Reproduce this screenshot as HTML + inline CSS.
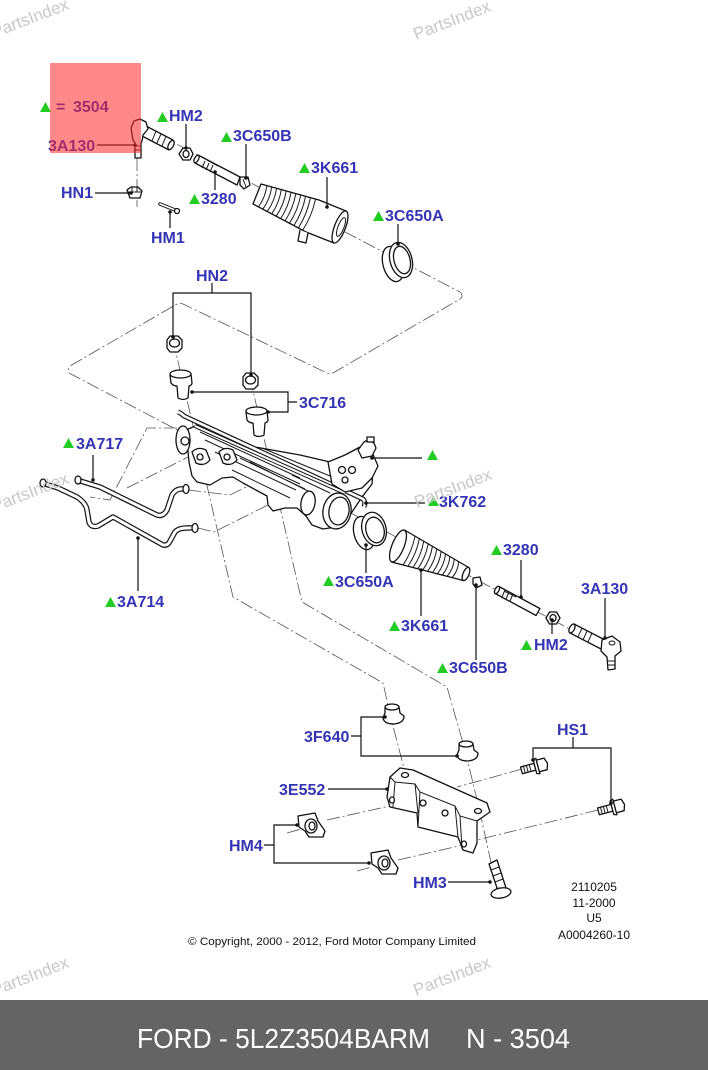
<!DOCTYPE html>
<html>
<head>
<meta charset="utf-8">
<style>
  html, body { margin:0; padding:0; background:#fff; }
  body { width:708px; height:1070px; overflow:hidden; }
  svg { display:block; }
  .p { fill:#fff; stroke:#111; stroke-width:1.3; stroke-linejoin:round; }
  .k { fill:none; stroke:#1a1a1a; stroke-width:1; }
  .d { fill:none; stroke:#555; stroke-width:0.8; stroke-dasharray:13 3 2 3; }
  .ld { fill:none; stroke:#111; stroke-width:1.2; }
  .t { font-family:"Liberation Sans", Arial, sans-serif; font-weight:bold; font-size:16px; fill:#3434b4; }
  .tri { fill:#22cc22; }
  .wm { font-family:"Liberation Sans", Arial, sans-serif; font-size:17px; fill:#c8c8c8; }
  .sm { font-family:"Liberation Sans", Arial, sans-serif; font-size:12px; fill:#111; }
</style>
</head>
<body>
<svg width="708" height="1070" viewBox="0 0 708 1070" xmlns="http://www.w3.org/2000/svg">
<rect x="0" y="0" width="708" height="1070" fill="#fff"/>

<!-- ================= DASH-DOT CONSTRUCTION LINES ================= -->
<path class="d" d="M140,125 L460,292 Q464,296 460,299 L333,373 Q330,374 327,373 L183,304 Q180,303 177,304 L70,366 Q67,369 69,373 L185,434"/>
<path class="d" d="M137,158 V207"/>
<path class="d" d="M173,340 L233,597 L383,683 L392,722 L406,776"/>
<path class="d" d="M250,378 L302,602 L447,687 L465,750 L480,812 L497,890"/>
<path class="d" d="M330,502 L600,645"/>
<path class="d" d="M177,428 L147,428 L110,500 L90,497"/>
<path class="d" d="M127,488 L188,457"/>
<path class="d" d="M188,490 L230,495 L252,484"/>
<path class="d" d="M198,528 L214,532 L278,500"/>
<path class="d" d="M522,769 L457,787"/>
<path class="d" d="M598,810 L477,840"/>
<path class="d" d="M327,820 L390,806"/>
<path class="d" d="M398,860 L463,845"/>
<path class="d" d="M287,833 L301,829"/>
<path class="d" d="M357,871 L372,867"/>

<!-- ================= TOP TIE ROD ASSEMBLY ================= -->
<path class="p" d="M146,126 L173,140 L169,150 L142,136 Z"/>
<ellipse class="p" cx="171" cy="145" rx="2.5" ry="5" transform="rotate(27 171 145)"/>
<path class="k" d="M156,131 L152,141 M161,134 L157,143 M166,136 L162,146"/>
<path class="p" d="M131,128 L134,121 L140,119 L146,122 L148,129 L143,135 L142,141 L141,143 L141,158 L135,158 L135,143 L133,140 Z"/>
<path class="k" d="M134,146 H141 M134,150 H141"/>
<path class="p" d="M193,154 L190,160 L183,160 L179,154 L183,148 L190,148 Z"/>
<ellipse class="p" cx="186" cy="154" rx="3" ry="3.5"/>
<path class="p" d="M198,155 L240,177 L237,185 L195,163 Z"/>
<ellipse class="p" cx="196.5" cy="159" rx="2" ry="4.2" transform="rotate(28 196.5 159)"/>
<path class="k" d="M205,161 L202,168 M209,163 L206,170 M213,165 L210,172 M207,160 L218,166"/>
<path class="p" d="M240,177 L248,177 L250,185 L244,189 L240,185 Z"/>
<path class="k" d="M243,179 L246,187"/>
<path class="p" d="M261,184 L319,200 L346,211 L334,243 L306,232 L253,204 Z"/>
<path class="k" d="M266.9,185.4 Q265.4,197.3 258.3,207 M271.7,186.9 Q270,199.2 262.7,209.3 M276.6,188.2 Q274.7,201 267.2,211.6 M281.3,189.6 Q279.3,202.9 271.7,214 M286.2,191 Q284,204.7 276.2,216.2 M291,192.4 Q288.6,206.6 280.6,218.6 M295.8,193.7 Q293.2,208.4 285,220.9 M300.7,195.2 Q297.9,210.3 289.5,223.2 M305.5,196.5 Q302.5,212.1 293.9,225.5 M310.4,197.9 Q307.2,214 298.4,227.9 M315.5,199.2 Q312,215.8 302.5,230.5"/>
<path class="p" d="M300,230 L298,241 L306,243 L308,233"/>
<ellipse class="p" cx="340" cy="227" rx="5.5" ry="17" transform="rotate(21 340 227)"/>
<ellipse class="k" cx="341" cy="227" rx="3" ry="10" transform="rotate(21 341 227)"/>
<ellipse class="p" cx="393" cy="264" rx="10" ry="18" transform="rotate(-15 393 264)"/>
<ellipse class="p" cx="401" cy="260" rx="11" ry="18" transform="rotate(-15 401 260)"/>
<ellipse class="p" cx="402" cy="260" rx="8" ry="14" transform="rotate(-15 402 260)"/>
<path class="p" d="M127,190 L131,187 L138,187 L142,191 L140,198 L130,198 Z"/>
<path class="k" d="M132,187 V192 M137,187 V192 M127,192 H142"/>
<path d="M160,204 L175,210" stroke="#1a1a1a" stroke-width="3.5" stroke-linecap="round" fill="none"/>
<path d="M160,204 L175,210" stroke="#fff" stroke-width="1.5" stroke-linecap="round" fill="none"/>
<circle class="p" cx="177" cy="211" r="2.5"/>

<!-- ================= HN2 NUTS / 3C716 BUSHINGS ================= -->
<path class="p" d="M167,340 L170,336 L178,336 L182,340 L182,348 L178,352 L170,352 L167,348 Z"/>
<ellipse class="p" cx="174.5" cy="343" rx="5" ry="4"/>
<path class="p" d="M243,377 L246,373 L254,373 L258,377 L258,385 L254,389 L246,389 L243,385 Z"/>
<ellipse class="p" cx="250.5" cy="380" rx="5" ry="4"/>
<path class="p" d="M170,375 L171,383 Q173,386 177,386 L178,398 Q183,401 188,398 L189,386 Q192,385 192,383 L191,374 Z"/>
<ellipse class="p" cx="180.5" cy="374" rx="10.5" ry="4"/>
<path class="p" d="M246,412 L247,420 Q249,423 253,423 L254,435 Q259,438 264,435 L265,423 Q268,422 268,420 L267,411 Z"/>
<ellipse class="p" cx="256.5" cy="411" rx="10.5" ry="4"/>

<!-- ================= TUBES 3A717 / 3A714 ================= -->
<path d="M77,480 L100,487 L157,515 Q163,517 167,510 L172,495 Q176,488 184,489" fill="none" stroke="#1a1a1a" stroke-width="5.5" stroke-linejoin="round"/>
<path d="M77,480 L100,487 L157,515 Q163,517 167,510 L172,495 Q176,488 184,489" fill="none" stroke="#fff" stroke-width="3" stroke-linejoin="round"/>
<ellipse class="p" cx="78" cy="480" rx="3" ry="4"/>
<ellipse class="p" cx="186" cy="489" rx="3" ry="4.5"/>
<path d="M42,483 L58,488 L77,497 Q86,503 87,510 L89,522 Q91,528 98,526 L113,517 L163,545 Q168,546 170,541 L175,532 Q179,527 193,528" fill="none" stroke="#1a1a1a" stroke-width="5.5" stroke-linejoin="round"/>
<path d="M42,483 L58,488 L77,497 Q86,503 87,510 L89,522 Q91,528 98,526 L113,517 L163,545 Q168,546 170,541 L175,532 Q179,527 193,528" fill="none" stroke="#fff" stroke-width="3" stroke-linejoin="round"/>
<ellipse class="p" cx="43" cy="483" rx="3" ry="4"/>
<ellipse class="p" cx="195" cy="528" rx="3" ry="4.5"/>

<!-- ================= RACK HOUSING ================= -->
<path class="p" d="M186,430 L200,424 L255,447 L300,455 L330,462 L347,457 L362,460 L373,470 L372,484 L362,497 L356,506 L348,518 L336,527 L323,529 L312,525 L306,516 L297,508 L285,508 L273,511 L268,505 L267,496 L243,483 L233,477 L222,478 L210,485 L197,482 L192,476 L189,462 Z"/>
<path class="k" d="M200,432 L300,478 M205,440 L300,484 M215,452 L296,490 M240,458 L305,489 M250,462 L310,492 M232,470 L290,498 M262,448 L330,476 M292,475 L330,493"/>
<path d="M178,412 Q181,413 184,416 L363,499 Q366,502 364,507" fill="none" stroke="#1a1a1a" stroke-width="5" stroke-linejoin="round"/>
<path d="M178,412 Q181,413 184,416 L363,499 Q366,502 364,507" fill="none" stroke="#fff" stroke-width="2.6" stroke-linejoin="round"/>
<path d="M195,426 L345,493" fill="none" stroke="#1a1a1a" stroke-width="4"/>
<path d="M195,426 L345,493" fill="none" stroke="#fff" stroke-width="2"/>
<ellipse class="p" cx="183" cy="440" rx="7" ry="14"/>
<circle class="p" cx="185" cy="441" r="4"/>
<path class="p" d="M192,452 Q198,446 206,450 L210,460 Q204,467 196,463 Z"/>
<circle class="p" cx="200" cy="457" r="3"/>
<path class="p" d="M219,452 Q225,446 233,450 L237,460 Q231,467 223,463 Z"/>
<circle class="p" cx="227" cy="457" r="3"/>
<path class="p" d="M328,462 L345,455 L360,447 L372,452 L378,466 L372,478 L362,488 L345,492 L332,484 Z"/>
<circle class="p" cx="342" cy="470" r="3.5"/>
<circle class="p" cx="352" cy="470" r="3.5"/>
<circle class="p" cx="345" cy="480" r="3"/>
<path class="p" d="M358,450 L364,442 L368,440 L374,443 L376,448 L372,456 L362,458 Z"/>
<rect class="p" x="367" y="437" width="7" height="5"/>
<ellipse class="p" cx="308" cy="503" rx="7" ry="12" transform="rotate(10 308 503)"/>
<ellipse class="p" cx="337" cy="511" rx="14" ry="18" transform="rotate(10 337 511)"/>
<ellipse class="p" cx="339" cy="511" rx="10" ry="14" transform="rotate(10 339 511)"/>

<!-- ================= LOWER TIE ROD ASSEMBLY ================= -->
<ellipse class="p" cx="364" cy="533" rx="10" ry="17" transform="rotate(-15 364 533)"/>
<ellipse class="p" cx="374" cy="529" rx="12" ry="17" transform="rotate(-15 374 529)"/>
<ellipse class="p" cx="375" cy="530" rx="9" ry="13" transform="rotate(-15 375 530)"/>
<path class="p" d="M404.5,530 L468.7,567.5 L463.3,580.5 L391.5,562 Z"/>
<path class="k" d="M415,536.3 Q411.9,551.7 403.2,564.8 M419.3,538.9 Q416.5,553.6 408.1,566.1 M423.7,541.4 Q421.2,555.5 413.1,567.4 M428.1,544 Q425.8,557.4 417.9,568.6 M432.4,546.5 Q430.4,559.3 422.8,569.9 M436.8,549 Q435,561.2 427.6,571.2 M441.2,551.5 Q439.7,563.1 432.6,572.5 M445.5,554.1 Q444.3,565 437.5,573.7 M449.9,556.6 Q448.9,566.9 442.3,575 M454.2,559.2 Q453.5,568.8 447.2,576.2 M458.6,561.7 Q458.2,570.7 452.2,577.5"/>
<ellipse class="p" cx="398" cy="546" rx="6" ry="17" transform="rotate(22 398 546)"/>
<ellipse class="p" cx="466" cy="574" rx="3" ry="7" transform="rotate(22 466 574)"/>
<path class="p" d="M473,578 L480,577 L482,585 L476,588 L473,584 Z"/>
<path class="p" d="M498.9,586.5 L539.9,608.5 L536.1,615.5 L495.1,593.5 Z"/>
<ellipse class="p" cx="497" cy="590" rx="2" ry="4" transform="rotate(28 497 590)"/>
<path class="k" d="M505,590 L502,597 M509,592 L506,599 M513,594 L510,601 M504,591 L516,597"/>
<path class="p" d="M560,618 L556.5,624 L549.5,624 L546,618 L549.5,612 L556.5,612 Z"/>
<ellipse class="p" cx="553" cy="618" rx="3" ry="3.5"/>
<path class="p" d="M574,624 L607,641 L603,650 L570,633 Z"/>
<ellipse class="p" cx="572" cy="628.5" rx="2.5" ry="4.8" transform="rotate(27 572 628.5)"/>
<path class="k" d="M582,628 L578,637 M587,631 L583,640 M592,633 L588,642"/>
<path class="p" d="M602,640 L612,636 L620,642 L621,651 L615,656 L615,669 L608,670 L607,657 L601,651 Z"/>
<ellipse class="k" cx="612" cy="643" rx="3" ry="2"/>
<path class="k" d="M607,661 H615 M607,665 H615"/>

<!-- ================= LOWER BRACKET GROUP ================= -->
<path class="p" d="M385,708 Q392,702 399,707 L400,713 L404,716 Q404,723 394,724 Q384,724 383,718 L385,713 Z"/>
<ellipse class="p" cx="392" cy="707" rx="7" ry="3"/>
<path class="p" d="M459,745 Q466,739 473,744 L474,750 L478,753 Q478,760 468,761 Q458,761 457,755 L459,750 Z"/>
<ellipse class="p" cx="466" cy="744" rx="7" ry="3"/>
<path class="p" d="M390,777 L400,768 L413,770 L487,803 L490,812 L477,821 L477,843 L473,853 L463,850 L458,837 L418,827 L417,813 L390,807 L387,797 Z"/>
<path class="k" d="M390,777 L395,782 L415,784 L420,792 L455,806 L460,816 L477,821 M395,782 L393,807 M415,784 L418,813 M420,792 L418,827 M455,806 L458,837 M460,816 L462,849"/>
<ellipse class="p" cx="405" cy="775" rx="3.5" ry="2.5"/>
<ellipse class="p" cx="392" cy="800" rx="2.5" ry="3"/>
<ellipse class="p" cx="478" cy="811" rx="3.5" ry="2.5"/>
<ellipse class="p" cx="464" cy="844" rx="2.5" ry="3"/>
<circle class="p" cx="423" cy="803" r="3"/>
<circle class="p" cx="445" cy="813" r="3"/>
<g transform="translate(534,767) rotate(-15)">
  <rect class="p" x="-13" y="-3.5" width="14" height="7"/>
  <path class="k" d="M-10,-3.5 V3.5 M-7,-3.5 V3.5 M-4,-3.5 V3.5"/>
  <path class="p" d="M1,-7 L4,-8 L4,8 L1,7 Z"/>
  <path class="p" d="M4,-6 L12,-6 L14,0 L12,6 L4,6 Z"/>
</g>
<g transform="translate(611,808) rotate(-15)">
  <rect class="p" x="-13" y="-3.5" width="14" height="7"/>
  <path class="k" d="M-10,-3.5 V3.5 M-7,-3.5 V3.5 M-4,-3.5 V3.5"/>
  <path class="p" d="M1,-7 L4,-8 L4,8 L1,7 Z"/>
  <path class="p" d="M4,-6 L12,-6 L14,0 L12,6 L4,6 Z"/>
</g>
<g transform="translate(311,825)">
  <path class="p" d="M-13,-9 L4,-12 L7,-4 L14,6 L12,12 L-2,12 L-6,6 L-12,2 Z"/>
  <ellipse class="p" cx="0" cy="1" rx="6" ry="7"/>
  <ellipse class="p" cx="1" cy="1" rx="3" ry="4"/>
</g>
<g transform="translate(384,862)">
  <path class="p" d="M-13,-9 L4,-12 L7,-4 L14,6 L12,12 L-2,12 L-6,6 L-12,2 Z"/>
  <ellipse class="p" cx="0" cy="1" rx="6" ry="7"/>
  <ellipse class="p" cx="1" cy="1" rx="3" ry="4"/>
</g>
<path class="p" d="M489,864 L497,860 L506,888 L498,891 Z"/>
<path class="k" d="M491,870 L499,867 M493,876 L501,873 M495,882 L503,879"/>
<ellipse class="p" cx="501" cy="893" rx="10" ry="5" transform="rotate(-10 501 893)"/>

<!-- ================= LEADER LINES ================= -->
<g class="ld">
  <path d="M186,124 V148"/>
  <path d="M246,144 V178"/>
  <path d="M327,177 V207"/>
  <path d="M398,224 V244"/>
  <path d="M215,172 V190"/>
  <path d="M170,212 V228"/>
  <path d="M95,193 H131"/>
  <path d="M97,145 H135"/>
  <path d="M212,283 V293 M173,337 V293 H251 V375"/>
  <path d="M192,392 H288 V412 H268 M288,402 H297"/>
  <path d="M372,458 H422"/>
  <path d="M366,503 H425"/>
  <path d="M93,455 V480"/>
  <path d="M138,538 V591"/>
  <path d="M366,545 V573"/>
  <path d="M421,570 V616"/>
  <path d="M521,560 V597"/>
  <path d="M605,598 V638"/>
  <path d="M552,620 V634"/>
  <path d="M476,585 V660"/>
  <path d="M351,736 H361 M385,717 H361 V756 H457"/>
  <path d="M328,789 H387"/>
  <path d="M573,737 V748 M533,760 V748 H611 V803"/>
  <path d="M264,845 H274 M297,825 H274 V863 H369"/>
  <path d="M448,882 H490"/>
</g>
<g fill="#111">
  <circle cx="186" cy="148" r="1.8"/><circle cx="246" cy="178" r="1.8"/><circle cx="327" cy="207" r="1.8"/>
  <circle cx="398" cy="244" r="1.8"/><circle cx="215" cy="172" r="1.8"/><circle cx="170" cy="212" r="1.8"/>
  <circle cx="131" cy="193" r="1.8"/><circle cx="135" cy="145" r="1.8"/><circle cx="173" cy="337" r="1.8"/>
  <circle cx="251" cy="375" r="1.8"/><circle cx="192" cy="392" r="1.8"/><circle cx="268" cy="412" r="1.8"/>
  <circle cx="372" cy="458" r="1.8"/><circle cx="366" cy="503" r="1.8"/><circle cx="93" cy="480" r="1.8"/>
  <circle cx="138" cy="538" r="1.8"/><circle cx="366" cy="545" r="1.8"/><circle cx="421" cy="570" r="1.8"/>
  <circle cx="521" cy="597" r="1.8"/><circle cx="605" cy="638" r="1.8"/><circle cx="552" cy="620" r="1.8"/>
  <circle cx="476" cy="585" r="1.8"/><circle cx="385" cy="717" r="1.8"/><circle cx="457" cy="756" r="1.8"/>
  <circle cx="387" cy="789" r="1.8"/><circle cx="533" cy="760" r="1.8"/><circle cx="611" cy="803" r="1.8"/>
  <circle cx="297" cy="825" r="1.8"/><circle cx="369" cy="863" r="1.8"/><circle cx="490" cy="882" r="1.8"/>
</g>

<!-- ================= TRIANGLES ================= -->
<g class="tri">
  <polygon points="40,112 51,112 45.5,102"/>
  <polygon points="157,122 168,122 162.5,112"/>
  <polygon points="221,142 232,142 226.5,132"/>
  <polygon points="299,173 310,173 304.5,163"/>
  <polygon points="373,221 384,221 378.5,211"/>
  <polygon points="189,204 200,204 194.5,194"/>
  <polygon points="63,448 74,448 68.5,438"/>
  <polygon points="105,607 116,607 110.5,597"/>
  <polygon points="427,460 438,460 432.5,450"/>
  <polygon points="428,506 439,506 433.5,496"/>
  <polygon points="323,586 334,586 328.5,576"/>
  <polygon points="389,631 400,631 394.5,621"/>
  <polygon points="491,555 502,555 496.5,545"/>
  <polygon points="521,650 532,650 526.5,640"/>
  <polygon points="437,673 448,673 442.5,663"/>
</g>

<!-- ================= LABELS ================= -->
<g class="t">
  <text x="56" y="112">=</text>
  <text x="73" y="112">3504</text>
  <text x="48" y="151">3A130</text>
  <text x="169" y="121">HM2</text>
  <text x="233" y="141">3C650B</text>
  <text x="311" y="173">3K661</text>
  <text x="385" y="221">3C650A</text>
  <text x="201" y="204">3280</text>
  <text x="61" y="198">HN1</text>
  <text x="151" y="243">HM1</text>
  <text x="196" y="281">HN2</text>
  <text x="299" y="408">3C716</text>
  <text x="76" y="449">3A717</text>
  <text x="117" y="607">3A714</text>
  <text x="439" y="507">3K762</text>
  <text x="335" y="587">3C650A</text>
  <text x="401" y="631">3K661</text>
  <text x="503" y="555">3280</text>
  <text x="581" y="594">3A130</text>
  <text x="534" y="650">HM2</text>
  <text x="449" y="673">3C650B</text>
  <text x="304" y="742">3F640</text>
  <text x="279" y="795">3E552</text>
  <text x="557" y="735">HS1</text>
  <text x="229" y="851">HM4</text>
  <text x="413" y="888">HM3</text>
</g>

<g class="sm" text-anchor="middle">
  <text x="594" y="891">2110205</text>
  <text x="594" y="907">11-2000</text>
  <text x="594" y="922">U5</text>
  <text x="594" y="939">A0004260-10</text>
</g>
<text x="188" y="945" font-family="Liberation Sans, Arial, sans-serif" font-size="11" fill="#111" textLength="288" lengthAdjust="spacingAndGlyphs">© Copyright, 2000 - 2012, Ford Motor Company Limited</text>

<rect x="50" y="63" width="91" height="90" fill="#ff2828" fill-opacity="0.55"/>

<g class="wm">
  <text x="-6" y="38" transform="rotate(-21 -6 38)">PartsIndex</text>
  <text x="416" y="40" transform="rotate(-21 416 40)">PartsIndex</text>
  <text x="-6" y="512" transform="rotate(-21 -6 512)">PartsIndex</text>
  <text x="417" y="508" transform="rotate(-21 417 508)">PartsIndex</text>
  <text x="-6" y="996" transform="rotate(-21 -6 996)">PartsIndex</text>
  <text x="416" y="996" transform="rotate(-21 416 996)">PartsIndex</text>
</g>

<rect x="0" y="1000" width="708" height="70" fill="#646464"/>
<text x="137" y="1048" font-family="Liberation Sans, Arial, sans-serif" font-size="28" fill="#fff" textLength="293" lengthAdjust="spacingAndGlyphs">FORD - 5L2Z3504BARM</text>
<text x="466" y="1048" font-family="Liberation Sans, Arial, sans-serif" font-size="28" fill="#fff" textLength="104" lengthAdjust="spacingAndGlyphs">N - 3504</text>
</svg>
</body>
</html>
